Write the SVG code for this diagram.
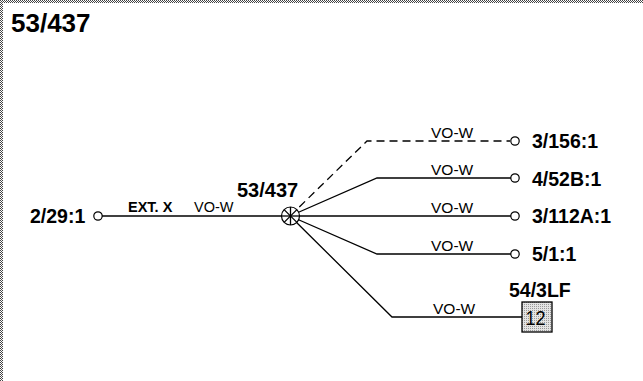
<svg xmlns="http://www.w3.org/2000/svg" width="643" height="381" viewBox="0 0 643 381">
<defs>
<pattern id="hatch" width="2" height="2" patternUnits="userSpaceOnUse">
<rect width="2" height="2" fill="#fff"/>
<rect width="1" height="1" fill="#444"/>
<rect x="1" y="1" width="1" height="1" fill="#444"/>
</pattern>
<pattern id="stipple" width="2" height="2" patternUnits="userSpaceOnUse">
<rect width="2" height="2" fill="#e4e4e4"/>
<rect width="1" height="1" fill="#999"/>
</pattern>
<style>
.b{font-family:"Liberation Sans",Arial,sans-serif;font-weight:bold;fill:#000}
.r{font-family:"Liberation Sans",Arial,sans-serif;fill:#000}
.w{fill:none;stroke:#000;stroke-width:1.3}
.d{fill:none;stroke:#000;stroke-width:1.3;stroke-dasharray:8 5}
.t{fill:#fff;stroke:#000;stroke-width:1.2}
</style>
</defs>
<rect width="643" height="381" fill="#fff"/>
<rect x="0" y="0" width="643" height="3" fill="url(#hatch)"/>
<rect x="0" y="0" width="3" height="381" fill="url(#hatch)"/>
<text class="b" x="11" y="32" font-size="26">53/437</text>
<g id="connectors">
<line class="w" x1="98" y1="216" x2="290" y2="216"/>
<polyline class="d" points="290,216 367,141 510,141"/>
<polyline class="w" points="290,216 377,178 514,178"/>
<line class="w" x1="290" y1="216" x2="514" y2="216"/>
<polyline class="w" points="290,216 377,254 514,254"/>
<polyline class="w" points="290,216 392,317 522,317"/>
<text class="b" x="128" y="212" font-size="14.5">EXT. X</text>
<text class="r" x="194" y="212" font-size="14.5">VO-W</text>
<text class="r" x="431" y="138" font-size="15.5">VO-W</text>
<text class="r" x="431" y="175" font-size="15.5">VO-W</text>
<text class="r" x="431" y="213" font-size="15.5">VO-W</text>
<text class="r" x="431" y="251" font-size="15.5">VO-W</text>
<text class="r" x="433" y="314" font-size="15.5">VO-W</text>
</g>
<g id="n-2-29-1">
<circle class="t" cx="98" cy="216" r="4.2"/>
<text class="b" x="30" y="223" font-size="19.5">2/29:1</text>
</g>
<g id="n-53-437">
<circle class="t" cx="290.5" cy="216" r="9"/>
<g class="w">
<line x1="290.5" y1="207" x2="290.5" y2="225"/>
<line x1="281.5" y1="216" x2="299.5" y2="216"/>
<line x1="284.1" y1="209.6" x2="296.9" y2="222.4"/>
<line x1="284.1" y1="222.4" x2="296.9" y2="209.6"/>
</g>
<text class="b" x="237" y="197" font-size="20">53/437</text>
</g>
<g id="n-3-156-1">
<circle class="t" cx="515" cy="141" r="4.2"/>
<text class="b" x="532" y="148" font-size="19.5">3/156:1</text>
</g>
<g id="n-4-52B-1">
<circle class="t" cx="515" cy="178" r="4.2"/>
<text class="b" x="532" y="186" font-size="19.5">4/52B:1</text>
</g>
<g id="n-3-112A-1">
<circle class="t" cx="515" cy="216" r="4.2"/>
<text class="b" x="532" y="223" font-size="19.5">3/112A:1</text>
</g>
<g id="n-5-1-1">
<circle class="t" cx="515" cy="254" r="4.2"/>
<text class="b" x="532" y="261" font-size="19.5">5/1:1</text>
</g>
<g id="n-54-3LF">
<rect x="522" y="302" width="30" height="30" fill="url(#stipple)" stroke="#000" stroke-width="1.3"/>
<text class="r" x="525.5" y="324.5" font-size="21" textLength="20" lengthAdjust="spacingAndGlyphs">12</text>
<text class="b" x="509" y="297" font-size="19.5">54/3LF</text>
</g>
</svg>
